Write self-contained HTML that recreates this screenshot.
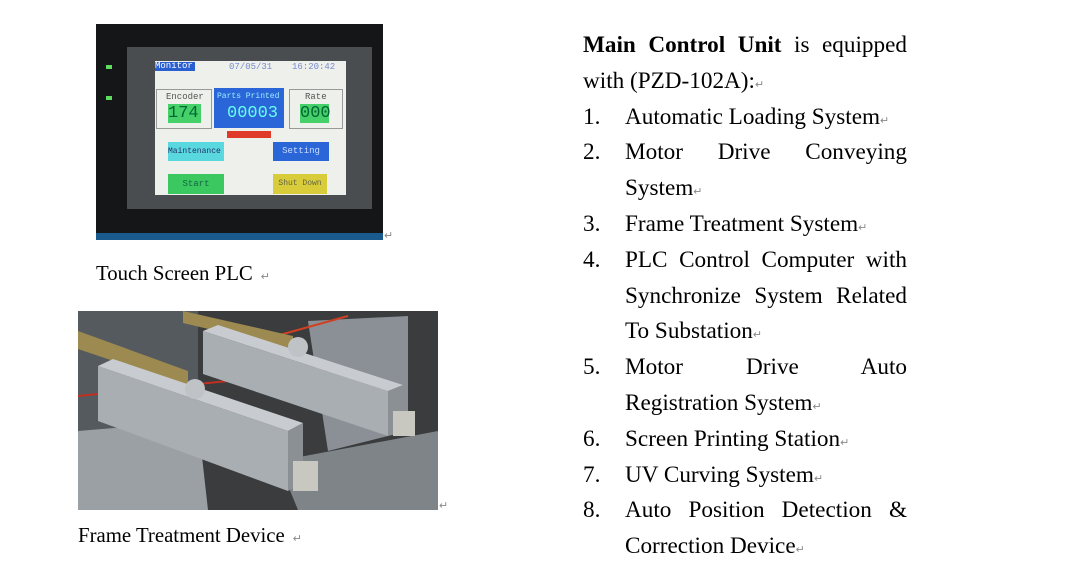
<!DOCTYPE html>
<html><head><meta charset="utf-8"><style>
body{margin:0;width:1084px;height:573px;background:#fff;position:relative;overflow:hidden;font-family:"Liberation Serif",serif;color:#000}
.a{position:absolute}
.m{font-family:"Liberation Mono",monospace;font-size:9px;position:absolute}
.rt{position:absolute;left:583px;top:28px;width:324px;font-size:23.2px;line-height:35.8px}
.rt>div{height:35.8px;overflow:visible;white-space:nowrap}
.j{text-align:justify;text-align-last:justify;white-space:normal!important}
.li{position:relative;padding-left:42px}
.li span.n{position:absolute;left:0}
.r{color:#888;font-size:11px;line-height:0}
</style></head><body>
<div class="a" style="left:96px;top:24px;width:287px;height:216px;background:#141618"></div>
<div class="a" style="left:96px;top:233px;width:287px;height:7px;background:#1b5a8c"></div>
<div class="a" style="left:127px;top:47px;width:245px;height:162px;background:#4a4d4f"></div>
<div class="a" style="left:155px;top:61px;width:191px;height:134px;background:#eef0ec"></div>
<div class="a" style="left:106px;top:65px;width:6px;height:4px;background:#5ddc5d"></div>
<div class="a" style="left:106px;top:96px;width:6px;height:4px;background:#5ddc5d"></div>
<div class="m" style="left:155px;top:62px;width:40px;height:9px;background:#2a5fd0;color:#fff;line-height:9px">Monitor</div>
<div class="m" style="left:229px;top:62px;color:#7a8acc">07/05/31</div>
<div class="m" style="left:292px;top:62px;color:#7a8acc">16:20:42</div>
<div class="a" style="left:156px;top:89px;width:54px;height:38px;border:1px solid #999"></div>
<div class="m" style="left:166px;top:92px;color:#555">Encoder</div>
<div class="a" style="left:168px;top:104px;width:33px;height:19px;background:#45d06a;font-family:'Liberation Mono';font-size:17px;line-height:19px;color:#063">174</div>
<div class="a" style="left:214px;top:88px;width:70px;height:40px;background:#2a66d8"></div>
<div class="m" style="left:217px;top:92px;color:#9ef;font-size:8px">Parts Printed</div>
<div class="a" style="left:227px;top:104px;font-family:'Liberation Mono';font-size:17px;color:#6fe">00003</div>
<div class="a" style="left:289px;top:89px;width:52px;height:38px;border:1px solid #999"></div>
<div class="m" style="left:305px;top:92px;color:#555">Rate</div>
<div class="a" style="left:300px;top:104px;width:29px;height:19px;background:#45d06a;font-family:'Liberation Mono';font-size:17px;line-height:19px;color:#063">000</div>
<div class="a" style="left:227px;top:131px;width:44px;height:7px;background:#e03a2a"></div>
<div class="m" style="left:168px;top:142px;width:56px;height:19px;background:#5ad8e0;color:#236;line-height:19px;font-size:8px">Maintenance</div>
<div class="m" style="left:273px;top:142px;width:56px;height:19px;background:#2a66d8;color:#cdf;line-height:19px;text-align:center">Setting</div>
<div class="m" style="left:168px;top:174px;width:56px;height:20px;background:#3cc860;color:#164;line-height:20px;text-align:center">Start</div>
<div class="m" style="left:273px;top:174px;width:54px;height:20px;background:#d8cc3a;color:#664;line-height:20px;text-align:center;font-size:8px">Shut Down</div>
<div class="a r" style="left:384px;top:236px">↵</div>
<div class="a" style="left:96px;top:262px;font-size:20.8px">Touch Screen PLC <span class="r">&nbsp;↵</span></div>

<svg class="a" style="left:78px;top:311px" width="360" height="199" viewBox="0 0 360 199">
<rect width="360" height="199" fill="#3a3c3e"/>
<rect x="0" y="0" width="120" height="199" fill="#555a5e"/>
<polygon points="230,10 330,5 330,120 250,140" fill="#8a9096"/>
<polygon points="0,120 120,110 130,199 0,199" fill="#9aa0a4"/>
<polygon points="200,150 360,120 360,199 220,199" fill="#7e8488"/>
<line x1="0" y1="85" x2="250" y2="60" stroke="#c03020" stroke-width="2"/>
<line x1="180" y1="30" x2="270" y2="5" stroke="#d04020" stroke-width="2"/>
<polygon points="0,20 110,60 110,75 0,38" fill="#9c8a50"/>
<polygon points="105,0 215,25 215,38 105,12" fill="#9c8a50"/>
<polygon points="20,55 210,120 210,180 20,110" fill="#a8aeb2"/>
<polygon points="20,55 35,48 225,112 210,120" fill="#c8ccd0"/>
<polygon points="210,120 225,112 225,172 210,180" fill="#8a9094"/>
<polygon points="125,20 310,80 310,125 125,63" fill="#a8aeb2"/>
<polygon points="125,20 140,14 325,74 310,80" fill="#c8ccd0"/>
<polygon points="310,80 325,74 325,120 310,125" fill="#8a9094"/>
<circle cx="117" cy="78" r="10" fill="#bfc3c6"/>
<circle cx="220" cy="36" r="10" fill="#bfc3c6"/>
<rect x="215" y="150" width="25" height="30" fill="#c8c8c0"/>
<rect x="315" y="100" width="22" height="25" fill="#c8c8c0"/>
</svg>
<div class="a r" style="left:439px;top:506px">↵</div>
<div class="a" style="left:78px;top:524px;font-size:20.8px">Frame Treatment Device <span class="r">&nbsp;↵</span></div>

<div class="rt">
<div class="j"><b>Main Control Unit</b> is equipped</div>
<div>with (PZD-102A):<span class="r">↵</span></div>
<div class="li"><span class="n">1.</span>Automatic Loading System<span class="r">↵</span></div>
<div class="li j"><span class="n">2.</span>Motor Drive Conveying</div>
<div class="li">System<span class="r">↵</span></div>
<div class="li"><span class="n">3.</span>Frame Treatment System<span class="r">↵</span></div>
<div class="li j"><span class="n">4.</span>PLC Control Computer with</div>
<div class="li j">Synchronize System Related</div>
<div class="li">To Substation<span class="r">↵</span></div>
<div class="li j"><span class="n">5.</span>Motor Drive Auto</div>
<div class="li">Registration System<span class="r">↵</span></div>
<div class="li"><span class="n">6.</span>Screen Printing Station<span class="r">↵</span></div>
<div class="li"><span class="n">7.</span>UV Curving System<span class="r">↵</span></div>
<div class="li j"><span class="n">8.</span>Auto Position Detection &amp;</div>
<div class="li">Correction Device<span class="r">↵</span></div>
</div>
</body></html>
